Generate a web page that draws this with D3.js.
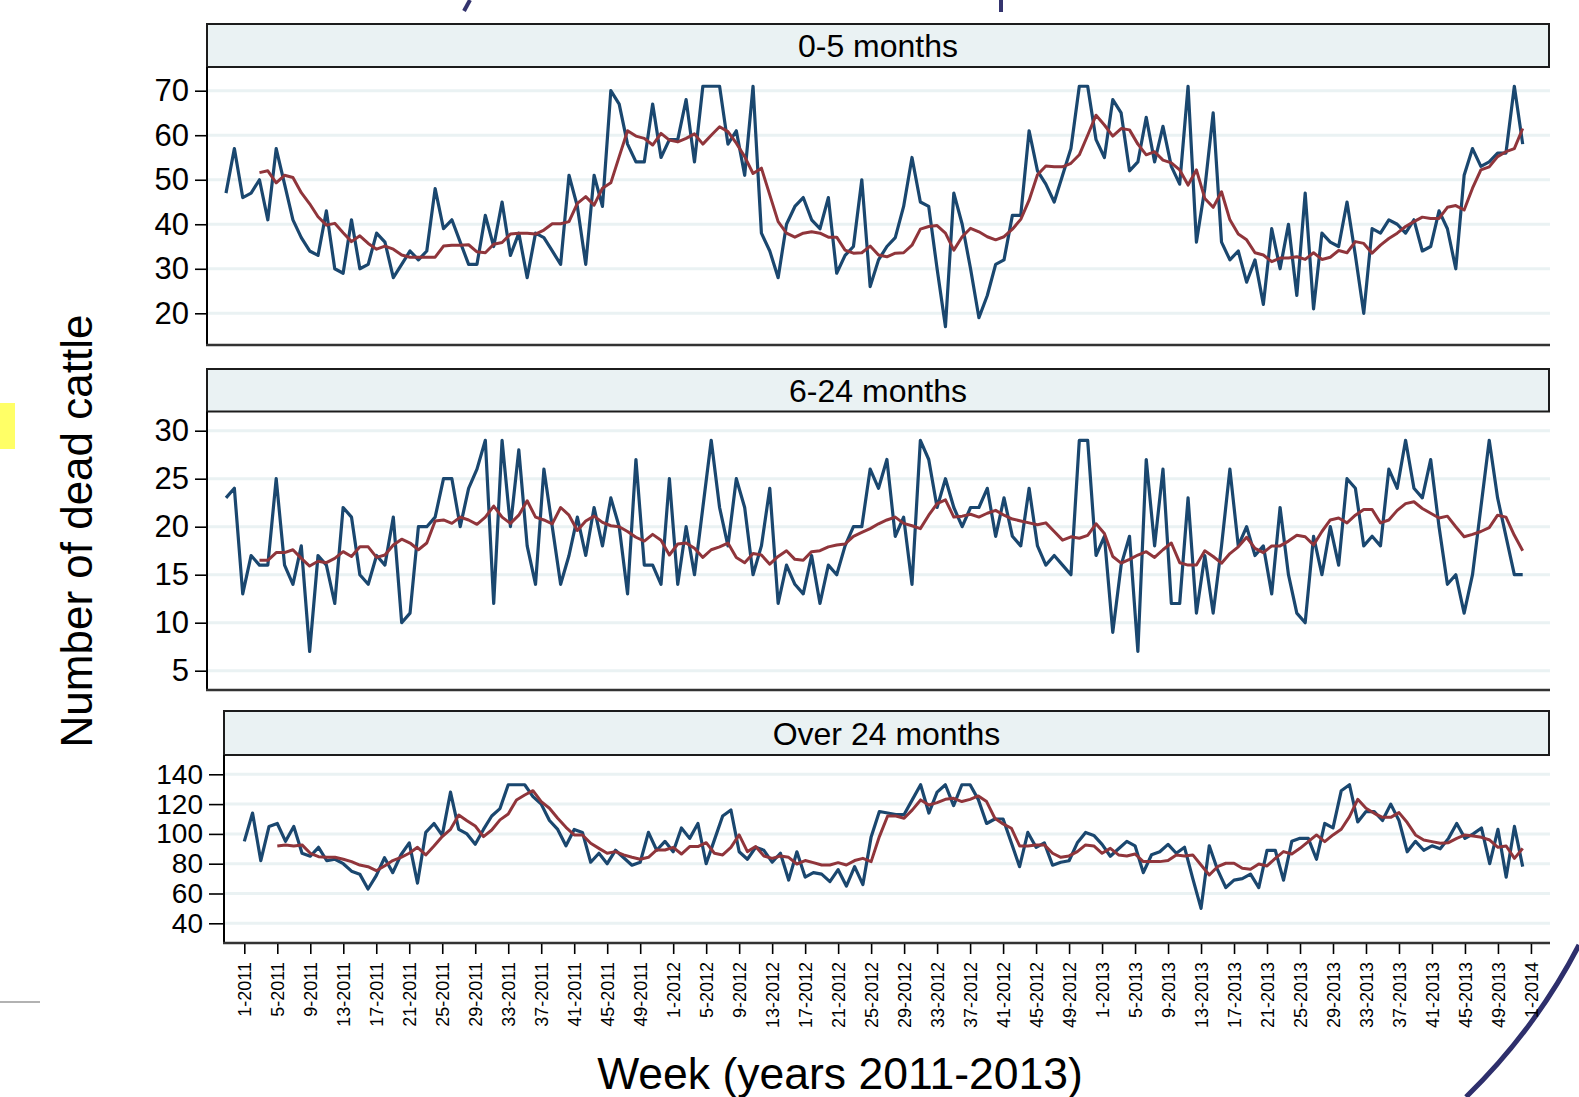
<!DOCTYPE html>
<html>
<head>
<meta charset="utf-8">
<script src="https://cdn.jsdelivr.net/npm/d3@7/dist/d3.min.js"></script>
<style>
    body { margin: 0; background: #fff; }
    svg { display: block; font-family: "Liberation Sans", Arial, Helvetica, sans-serif; }
</style>
</head>
<body>
<div id="chart"></div>
<script>
// ---- data (weekly counts of dead cattle, week 1-2011 .. week 52-2013) ----
const xTickLabels = [
    "1-2011","5-2011","9-2011","13-2011","17-2011","21-2011","25-2011","29-2011","33-2011","37-2011",
    "41-2011","45-2011","49-2011","1-2012","5-2012","9-2012","13-2012","17-2012","21-2012","25-2012",
    "29-2012","33-2012","37-2012","41-2012","45-2012","49-2012","1-2013","5-2013","9-2013","13-2013",
    "17-2013","21-2013","25-2013","29-2013","33-2013","37-2013","41-2013","45-2013","49-2013","1-2014"
];

const panelTitles = ["0-5 months", "6-24 months", "Over 24 months"];

const yTicksYoung = [20, 30, 40, 50, 60, 70];
const yTicksMid = [5, 10, 15, 20, 25, 30];
const yTicksOld = [40, 60, 80, 100, 120, 140];

const youngCounts = [
    47,57,46,47,50,41,57,49,41,37, 34,33,43,30,29,41,30,31,38,36,
    28,31,34,32,34,48,39,41,36,31, 31,42,35,45,33,38,28,38,37,34,
    31,51,44,31,51,44,70,67,58,54, 54,67,55,59,59,68,54,71,71,71,
    58,61,51,71,38,34,28,40,44,46, 41,39,46,29,33,35,50,26,32,35,
    37,44,55,45,44,30,17,47,40,30, 19,24,31,32,42,42,61,52,49,45,
    51,57,71,71,59,55,68,65,52,54, 64,54,62,53,49,71,36,48,65,36,
    32,34,27,32,22,39,30,40,24,47, 21,38,36,35,45,33,20,39,38,41,
    40,38,41,34,35,43,39,30,51,57, 53,54,56,56,71,58
];
const youngAvg = [
    null,null,null,null,51.6,52,49.3,51,50.5,47.1, 44.6,41.7,39.8,40.2,38.1,36.1,37.4,35.7,34.4,35.1,
    34.4,33.1,32.6,32.6,32.6,32.6,35.1,35.3,35.3,35.4, 33.8,33.6,35.5,35.9,37.8,38,38,37.8,38.7,40.1,
    40.1,40.6,44.7,46.2,44.3,48.1,49.3,55.2,61,59.8, 59.3,57.8,60.4,58.9,58.5,59.3,60.3,58,60,61.9,
    60.8,58.2,55.2,51.4,52.6,46.6,40.6,38,37.1,38, 38.3,38,37.1,37.1,34.2,33.5,33.6,35.1,33.1,32.7,
    33.5,33.6,35.3,38.9,39.5,39.7,38,34.2,37.2,39.1, 38.3,37.2,36.5,37.2,38.9,41.1,45.4,51.1,53.1,52.9,
    52.9,53.7,55.6,60,64.5,62.3,59.8,61.5,61.2,58, 55.6,56.3,54.4,53.8,52.2,48.8,52.2,45.8,43.8,47.3,
    41,37.8,36.5,33.6,33.1,31.6,32.4,32.4,32.7,32.1, 33.6,32.1,32.6,34.1,33.6,36.1,35.7,33.5,35.3,36.8,
    38,39.5,40.6,41.6,41.3,41.3,43.8,44.2,43.2,48.1, 52.2,52.9,55.2,56.3,57,61.5
];

const midCounts = [
    23,24,13,17,16,16,25,16,14,18, 7,17,16,12,22,21,15,14,17,16,
    21,10,11,20,20,21,25,25,20,24, 26,29,12,29,20,28,18,14,26,20,
    14,17,21,17,22,18,23,20,13,27, 16,16,14,25,14,20,15,22,29,22,
    18,25,22,15,18,24,12,16,14,13, 17,12,16,15,18,20,20,26,24,27,
    19,21,14,29,27,22,25,22,20,22, 22,24,19,23,19,18,24,18,16,17,
    16,15,29,29,17,19,9,16,19,7, 27,18,26,12,12,23,11,17,11,18,
    26,18,20,17,18,13,22,15,11,10, 19,15,20,16,25,24,18,19,18,26,
    24,29,24,23,27,20,14,15,11,15, 22,29,23,19,15,15
];
const midAvg = [
    null,null,null,null,16.5,16.5,17.3,17.3,17.6,16.7, 15.9,16.4,16.25,16.7,17.4,16.9,17.9,17.9,16.8,17.05,
    18.1,18.7,18.3,17.6,18.3,20.6,20.7,20.35,21,20.7, 20.25,21,22.15,21,20.35,21.2,22.7,21,20.7,20.3,
    22,21.2,19.6,20.6,21.1,20.45,20.1,20,19.5,18.9, 18.5,19.2,18.6,17.05,18.2,18.3,17.75,16.8,17.6,17.9,
    18.3,16.8,16.25,17.2,17.05,16.1,16.9,17.5,16.6,16.5, 17.4,17.5,17.9,18.1,18.2,19,19.4,19.8,20.3,20.7,
    21,20.35,20.1,19.8,21.2,22.4,22.8,21,21.1,21.3, 21,21.4,21.7,21.2,20.8,20.6,20.4,20.2,20.4,19.5,
    18.6,18.95,18.8,19.1,20.3,19.3,16.9,16.2,16.6,17.05, 17.4,16.8,17.6,18.3,16.25,16,16,17.5,16.9,16.2,
    17.2,17.9,18.9,17.75,17.3,18,18,18.5,19.1,18.95, 18.1,19.5,20.7,20.9,20.4,21.2,21.8,21.8,20.4,20.7,
    21.7,22.4,22.6,21.9,21.4,20.9,21.1,20,18.95,19.2, 19.5,19.9,21.2,21,19.1,17.5
];

const oldCounts = [
    95,114,82,105,107,95,105,87,85,91, 82,83,80,75,73,63,72,84,74,86,
    94,67,101,107,99,128,103,100,93,103, 112,117,133,133,133,125,120,109,103,92,
    103,101,81,87,80,89,84,79,81,101, 89,95,88,104,97,107,80,96,112,116,
    88,83,91,89,81,87,69,88,71,74, 73,68,76,65,78,66,98,115,114,113,
    113,123,133,114,128,133,119,133,133,123, 107,110,110,94,78,101,91,94,79,81,
    82,94,101,99,93,85,90,95,92,74, 86,88,93,87,91,70,50,92,76,64,
    69,70,73,64,89,89,69,95,97,97, 83,107,104,129,133,108,115,115,109,120,
    109,88,95,89,92,90,97,107,97,100, 104,80,103,71,105,78
];
const oldAvg = [
    null,null,null,null,91.9,92.6,91.9,92.6,87,84.7, 84.3,84.3,83,81.4,79.1,78,75.3,78.5,82.1,84.3,
    87,91,85.9,91.9,98.2,103.1,112.7,108.9,105.3,98.2, 102.6,109.4,113.4,122.8,126.1,129,121.7,117.2,110.5,104.4,
    99.3,99.3,93.7,90.3,87,88.1,85.9,84.3,83,84.3, 89.2,89.2,91,86.5,91.5,91.5,94.1,87,85.9,91,
    99.3,88.1,91.5,85.2,83.6,85.2,84.3,79.8,82.1,80.7, 79.1,79.1,80.7,79.1,82.1,83.6,81.4,98.2,112,112,
    110.5,116.1,122.8,119.4,121,123.2,123.9,121.7,123.2,125.5, 121.7,110.5,106.7,103.8,91.9,91.9,92.6,92.6,87,84.3,
    85.2,88.1,92.6,91.9,87,90.3,85.9,85.2,86.5,81.4, 81.4,81.4,82.1,85.9,85.2,85.9,79.1,72.4,78,80.3,
    80.3,76.9,76.2,79.8,78.5,83.6,88.1,86.5,90.3,94.8, 99.3,94.8,99.3,103.1,111.6,123.2,117.2,113.8,111.1,111.1,
    114.3,107.6,99.3,95.9,94.8,93.7,94.1,97,99.3,98.6, 97.7,95.9,91,91.9,83.6,90.3
];

// ---- layout ----
const W = 1579, H = 1097;
const blue = "#1a476f", red = "#90353b", grid = "#eaf2f3", stripFill = "#eaf2f3";

const panels = [
    {title: panelTitles[0], counts: youngCounts, avg: youngAvg, ticks: yTicksYoung,
     left: 207, right: 1549, stripTop: 24, top: 67, bottom: 345,
     yLo: [20, 313.3], yHi: [70, 90.7], x0: 226, x1: 1522.7, font: 31, tick: 12},
    {title: panelTitles[1], counts: midCounts, avg: midAvg, ticks: yTicksMid,
     left: 207, right: 1549, stripTop: 369, top: 411.5, bottom: 690,
     yLo: [5, 670.7], yHi: [30, 430.7], x0: 226, x1: 1522.7, font: 31, tick: 12},
    {title: panelTitles[2], counts: oldCounts, avg: oldAvg, ticks: yTicksOld,
     left: 224, right: 1549, stripTop: 711, top: 755, bottom: 943,
     yLo: [40, 923.3], yHi: [140, 774.3], x0: 244.3, x1: 1522.7, font: 28, tick: 15, xAxis: true}
];

const svg = d3.select("#chart").append("svg")
    .attr("width", W)
    .attr("height", H);

svg.append("rect").attr("width", W).attr("height", H).attr("fill", "#fff");

// slide decorations around the figure
svg.append("path").attr("d", "M470,0 L464,11").attr("stroke", "#34346e").attr("stroke-width", 4);
svg.append("path").attr("d", "M1001,0 L1001,12").attr("stroke", "#34346e").attr("stroke-width", 4);
svg.append("rect").attr("x", 0).attr("y", 403).attr("width", 15).attr("height", 46).attr("fill", "#ffff66");
svg.append("line").attr("x1", 0).attr("x2", 40).attr("y1", 1002).attr("y2", 1002)
    .attr("stroke", "#999").attr("stroke-width", 1.5);
svg.append("path").attr("d", "M1579,945 Q1535,1030 1466,1097")
    .attr("fill", "none").attr("stroke", "#2e2f6c").attr("stroke-width", 5);

panels.forEach(p => {
    let g = svg.append("g");

    let x = d3.scaleLinear().domain([0, p.counts.length - 1]).range([p.x0, p.x1]);
    let y = d3.scaleLinear().domain([p.yLo[0], p.yHi[0]]).range([p.yLo[1], p.yHi[1]]);

    // gridlines
    g.selectAll(".grid")
        .data(p.ticks)
        .enter().append("line")
        .attr("x1", p.left).attr("x2", p.right + 1)
        .attr("y1", d => y(d)).attr("y2", d => y(d))
        .attr("stroke", grid).attr("stroke-width", 3);

    // strip label
    g.append("rect")
        .attr("x", p.left).attr("y", p.stripTop)
        .attr("width", p.right - p.left).attr("height", p.top - p.stripTop)
        .attr("fill", stripFill).attr("stroke", "#1c1c1c").attr("stroke-width", 2);
    g.append("text")
        .attr("x", (p.left + p.right) / 2)
        .attr("y", (p.stripTop + p.top) / 2)
        .attr("dy", "0.36em")
        .attr("text-anchor", "middle")
        .style("font-size", "32px")
        .text(p.title);

    // lines
    let line = d3.line()
        .defined(d => d != null)
        .x((d, i) => x(i))
        .y(d => y(d));

    g.append("path")
        .datum(p.counts)
        .attr("d", line)
        .attr("fill", "none")
        .attr("stroke", blue)
        .attr("stroke-width", 3.2)
        .attr("stroke-linejoin", "round");

    g.append("path")
        .datum(p.avg)
        .attr("d", line)
        .attr("fill", "none")
        .attr("stroke", red)
        .attr("stroke-width", 3)
        .attr("stroke-linejoin", "round");

    // y axis
    let yAxis = g.append("g")
        .attr("transform", `translate(${p.left},0)`)
        .call(d3.axisLeft(y).tickValues(p.ticks).tickSize(p.tick).tickPadding(6));
    yAxis.select(".domain").remove();
    yAxis.selectAll(".tick line").attr("stroke", "#000").attr("stroke-width", 1.6);
    yAxis.selectAll(".tick text")
        .style("font-size", p.font + "px")
        .style("font-family", "'Liberation Sans', Arial, sans-serif")
        .attr("fill", "#000");

    g.append("line")
        .attr("x1", p.left).attr("x2", p.left)
        .attr("y1", p.top).attr("y2", p.bottom + 1)
        .attr("stroke", "#000").attr("stroke-width", 2);
    g.append("line")
        .attr("x1", p.left - 1).attr("x2", p.right + 1)
        .attr("y1", p.bottom).attr("y2", p.bottom)
        .attr("stroke", "#333").attr("stroke-width", 2.5);

    // x axis (bottom panel only)
    if (p.xAxis) {
        let xAxis = g.append("g")
            .attr("transform", `translate(0,${p.bottom + 1})`)
            .call(d3.axisBottom(x)
                .tickValues(xTickLabels.map((d, i) => i * 4))
                .tickFormat((d, i) => xTickLabels[i])
                .tickSize(10)
                .tickSizeOuter(0));
        xAxis.select(".domain").remove();
        xAxis.selectAll(".tick line").attr("stroke", "#000").attr("stroke-width", 1.6);
        xAxis.selectAll(".tick text")
            .attr("transform", "rotate(-90)")
            .attr("x", -18)
            .attr("y", 0)
            .attr("dy", "0.36em")
            .attr("text-anchor", "end")
            .attr("fill", "#000")
            .style("font-size", "18px")
            .style("font-family", "'Liberation Sans', Arial, sans-serif");
    }
});

// axis titles
svg.append("text")
    .attr("transform", "translate(92,531) rotate(-90)")
    .attr("text-anchor", "middle")
    .style("font-size", "44px")
    .text("Number of dead cattle");

svg.append("text")
    .attr("x", 840)
    .attr("y", 1089)
    .attr("text-anchor", "middle")
    .style("font-size", "44.5px")
    .text("Week (years 2011-2013)");
</script>
</body>
</html>
